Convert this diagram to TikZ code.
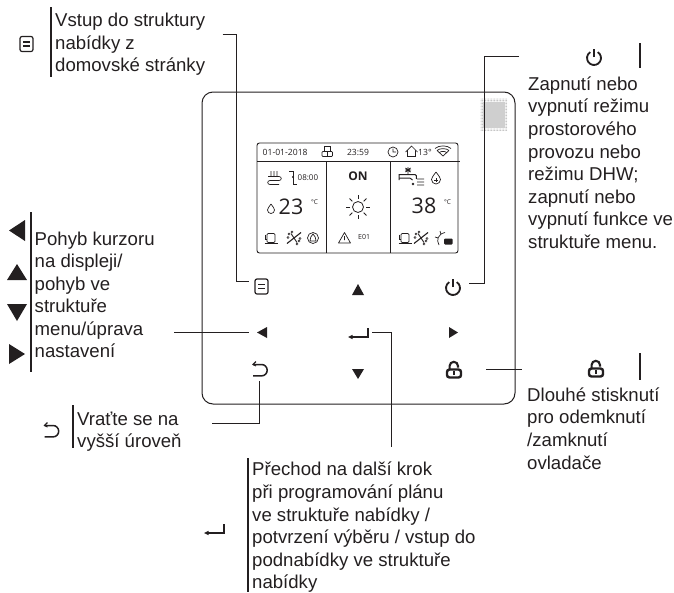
\documentclass[tikz,border=0pt]{standalone}
\usepackage{fontspec}
\setmainfont{Liberation Sans}
\newfontfamily\scrfont{Open Sans}
\definecolor{ink}{HTML}{231F20}
\tikzset{
 x=1pt,y=1pt,
 txt/.style={anchor=north west,inner sep=0pt,align=left,text=ink,font=\fontsize{18.6}{22.55}\selectfont},
 conn/.style={draw=ink,line width=0.9pt},
 bar/.style={draw=ink,line width=1.5pt},
 tri/.style={fill=ink,draw=none},
 scr/.style={inner sep=0pt,text=ink,font=\scrfont\fontsize{8.6}{10}\selectfont},
 big/.style={inner sep=0pt,text=ink,font=\scrfont\fontsize{21.5}{23}\selectfont},
 thin icon/.style={draw=ink,line width=0.7pt},
 menuicon/.pic={\draw[ink,line width=1.2pt,rounded corners=2pt] (-6.5,-7.5) rectangle (6.5,7.5);
   \draw[ink,line width=1.1pt] (-3.5,2)--(3.5,2) (-3.5,-2)--(3.5,-2);},
 powericon/.pic={\draw[ink,line width=1.8pt] (58:7) arc (58:-238:7); \draw[ink,line width=1.6pt] (0,1)--(0,9);},
 lockicon/.pic={\draw[ink,line width=2.1pt] (-4.4,1) -- (-4.4,5) arc (180:0:4.2) -- (4,3.5);
   \draw[ink,line width=2.4pt,rounded corners=2.5pt] (-7,-6.5) rectangle (7,1.5);
   \draw[ink,line width=2.1pt] (0,-4)--(0,0);},
 backicon/.pic={\draw[ink,line width=1.5pt] (-7.5,5.5) -- (1,5.5) arc (90:-90:5.7) -- (-7.5,-5.9);
   \draw[ink,line width=1.1pt] (-4.5,8.5)--(-7.5,5.5)--(-4.5,4);},
 entericon/.pic={\draw[ink,line width=1.2pt] (20,9)--(20,0)--(2,0); \fill[ink] (0,0)--(4.5,2.2)--(4.5,-2.2)--cycle;},
 compicon/.pic={\draw[thin icon,rounded corners=1.2pt] (-4,-4.5)--(-4,4.5)--(4,4.5)--(4,-4.5)--cycle;
   \draw[thin icon] (-6,3.5)--(-6,-1.5)--(-4,-1.5) (-6.5,-5.8)--(6.5,-5.8) (-3.5,-4.5)--(-3.5,-5.8) (3.5,-4.5)--(3.5,-5.8);},
 fanicon/.pic={\draw[ink,line width=1.1pt] (-7,-5.5)--(7,5.5);
   \draw[ink,line width=0.9pt] (-3,4.5)--(3,-4.5);
   \foreach \p in {(-5,4),(-2,6),(5,-3),(3,-6),(-6,0.5),(6,-0.5)}{\draw[ink,line width=0.5pt] \p circle[radius=1.1];}},
 dotgrid/.pic={\foreach \i in {0,...,17}{\foreach \j in {0,...,21}{\fill[gray!55] (\i*1.5,-\j*1.5) circle[radius=0.5];}}},
}
\begin{document}
\begin{tikzpicture}
\useasboundingbox (0,0) rectangle (674,-592);
% panel
\draw[ink,line width=1pt,rounded corners=11pt] (202,-92) rectangle (515,-404);
\pic at (481,-99) {dotgrid};
\fill[gray!38] (483,-102) rectangle (505,-128);
% screen
\draw[ink,line width=0.9pt,rounded corners=2.5pt] (257,-143) rectangle (458,-253);
\draw[ink,line width=0.9pt] (257,-161.5)--(460,-161.5) (326.5,-161.5)--(326.5,-253) (390.5,-161.5)--(390.5,-253);
\node[scr,anchor=west] (date) at (262.5,-152) {01-01-2018};
\draw[thin icon,rounded corners=0.8pt] (322,-156.5) rectangle (332.5,-151.5);
\draw[thin icon] (324.5,-151.5)--(324.5,-146.5)--(330,-146.5)--(330,-151.5) (327.2,-151.5)--(327.2,-156.5);
\node[scr] (time) at (358,-152) {23:59};
\draw[thin icon] (393,-152) circle[radius=5] (393,-148.5)--(393,-152)--(396,-152);
\draw[thin icon] (405.5,-152)--(411.5,-146)--(417.5,-152) (407.5,-150.5)--(407.5,-156.5)--(415.5,-156.5)--(415.5,-150.5);
\node[scr,anchor=west] (outt) at (418,-152) {13°};
\draw[thin icon] (443,-156)--(437,-150.5) (443,-156)--(449,-150.5) (435,-148.5) .. controls (439,-145) and (447,-145) .. (451,-148.5) (437,-150.5) .. controls (440,-148) and (446,-148) .. (449,-150.5) (439.5,-152.5) .. controls (441,-151) and (445,-151) .. (446.5,-152.5);
% left column
\draw[thin icon] (268,-176.5)--(279,-176.5)..controls (282,-176.5) and (282,-180.5) .. (279,-180.5)--(270,-180.5)..controls (267,-180.5) and (267,-184.5) .. (270,-184.5)--(279,-184.5);
\draw[thin icon] (271,-171)..controls (270,-173) and (272,-174) .. (271,-176) (274,-171)..controls (273,-173) and (275,-174) .. (274,-176) (277,-171)..controls (276,-173) and (278,-174) .. (277,-176);
\draw[ink,line width=0.8pt] (289,-171)--(293,-171)--(293,-184)--(297,-184);
\fill[ink] (293,-177) circle[radius=1.2];
\node[scr,anchor=west,font=\scrfont\fontsize{8}{9}\selectfont] (clock) at (297.5,-178) {08:00};
\draw[thin icon] (271,-204)..controls (269,-207) and (267.5,-208.5) .. (267.5,-210) arc (180:360:3.5)..controls (274.5,-208.5) and (273,-207) .. (271,-204);
\node[big,anchor=west] (t1) at (278.5,-207) {23};
\node[scr,anchor=west,font=\scrfont\fontsize{6.5}{7}\selectfont] (c1) at (311,-202) {°C};
\pic at (271,-238) {compicon};
\pic at (294,-238) {fanicon};
\draw[thin icon] (313,-238) circle[radius=5.5];
\draw[thin icon] (310,-241)..controls (309,-238) and (312,-236) .. (313,-234) ..controls (314,-236) and (317,-238) .. (316,-241) -- cycle;
% middle column
\node[scr,font=\scrfont\bfseries\fontsize{12}{14}\selectfont] (on) at (358,-176.5) {ON};
\draw[ink,line width=0.8pt] (358,-207) circle[radius=5.5];
\foreach \a in {0,45,...,315}{\draw[ink,line width=0.8pt] (358,-207)++(\a:8)--++(\a:4);}
\draw[thin icon,line join=round] (338.5,-243)--(344.5,-232.5)--(350.5,-243)--cycle (344.5,-236)--(344.5,-240);
\node[scr,anchor=west,font=\scrfont\fontsize{7}{8}\selectfont] (err) at (358,-237) {E01};
% right column
\draw[ink,line width=1pt] (399,-180)--(399,-174.5)--(415,-174.5)..controls (416.5,-174.5) and (416.5,-176) .. (416.5,-179);
\draw[ink,line width=1pt] (399,-178)--(406,-178)..controls (409,-178) and (412,-178) .. (412.5,-180);
\draw[ink,line width=0.9pt] (405,-170)--(411,-170) (408,-167)--(408,-174) (405.5,-168)--(410.5,-172) (410.5,-168)--(405.5,-172);
\fill[ink] (413,-184) circle[radius=1.4];
\draw[thin icon] (417,-179)..controls (419,-178) and (421,-180) .. (424,-179) (417,-182)..controls (419,-181) and (421,-183) .. (424,-182) (417,-185)..controls (419,-184) and (421,-186) .. (424,-185);
\draw[thin icon] (436,-172)..controls (433,-176) and (431.5,-178) .. (431.5,-179.5) arc (180:360:4.5)..controls (440.5,-178) and (439,-176) .. (436,-172);
\draw[thin icon] (434,-180)--(438,-180) (436,-178)--(436,-182);
\node[big,anchor=west] (t2) at (411.5,-206) {38};
\node[scr,anchor=west,font=\scrfont\fontsize{6.5}{7}\selectfont] (c2) at (444,-202) {°C};
\pic at (405,-238) {compicon};
\pic at (421,-238) {fanicon};
\draw[thin icon] (439,-245)..controls (436,-240) and (438,-234) .. (445,-232.5) (435,-237)--(438,-238) (440,-231)--(441,-234.5);
\fill[ink,rounded corners=1pt] (444,-244.5) rectangle (452.5,-238.5);
% panel keys
\pic at (261.5,-286.5) {menuicon};
\fill[tri] (352,-295)--(364,-295)--(358,-284)--cycle;
\pic at (453,-288) {powericon};
\fill[tri] (267,-327)--(267,-338)--(257,-332.5)--cycle;
\pic at (348,-337) {entericon};
\fill[tri] (449,-327)--(449,-338)--(458,-332.5)--cycle;
\pic at (260.5,-370) {backicon};
\fill[tri] (352,-369)--(364,-369)--(358,-379)--cycle;
\pic at (454,-371) {lockicon};
% texts
\node[txt] (tMenu) at (55,-13) {Vstup do struktury\\nabídky z\\domovské stránky};
\draw[bar] (51,-7)--(51,-77);
\pic at (26.5,-44) {menuicon};
\node[txt] (tMove) at (34.5,-231.5) {Pohyb kurzoru\\na displeji/\\pohyb ve\\struktuře\\menu/úprava\\nastavení};
\draw[bar] (31,-212)--(31,-372);
\fill[tri] (25,-220)--(25,-241)--(9,-230.5)--cycle;
\fill[tri] (7,-280)--(27,-280)--(17,-264)--cycle;
\fill[tri] (7,-304)--(27,-304)--(17,-321)--cycle;
\fill[tri] (9,-344)--(9,-364)--(25,-354)--cycle;
\node[txt] (tBack) at (77,-411.5) {Vraťte se na\\vyšší úroveň};
\draw[bar] (73,-405)--(73,-448);
\begin{scope}[shift={(52,-431)},scale=0.85]\pic {backicon};\end{scope}
\node[txt] (tPower) at (528,-76.5) {Zapnutí nebo\\vypnutí režimu\\prostorového\\provozu nebo\\režimu DHW;\\zapnutí nebo\\vypnutí funkce ve\\struktuře menu.};
\draw[bar] (640,-43)--(640,-68);
\pic at (594,-58) {powericon};
\node[txt] (tLock) at (527,-387.5) {Dlouhé stisknutí\\pro odemknutí\\/zamknutí\\ovladače};
\draw[bar] (640,-353)--(640,-380);
\pic at (596,-370) {lockicon};
\node[txt] (tEnter) at (252,-462) {Přechod na další krok\\při programování plánu\\ve struktuře nabídky /\\potvrzení výběru / vstup do\\podnabídky ve struktuře\\nabídky};
\draw[bar] (248,-458)--(248,-592);
\pic at (204,-533) {entericon};
% connectors
\coordinate (a1) at (222.5,-34); \coordinate (a2) at (249,-281);
\draw[conn] (a1) -| (236,-281) -- (a2);
\coordinate (b1) at (519,-56); \coordinate (b2) at (469,-283);
\draw[conn] (b1) -| (484,-283) -- (b2);
\coordinate (c1a) at (174,-332); \coordinate (c2a) at (249,-332);
\draw[conn] (c1a) -- (c2a);
\coordinate (d1) at (212,-423); \coordinate (d2) at (259,-381);
\draw[conn] (d1) -| (d2);
\coordinate (e1) at (372,-332); \coordinate (e2) at (391,-447);
\draw[conn] (e1) -| (e2);
\coordinate (f1) at (486,-369); \coordinate (f2) at (522,-369);
\draw[conn] (f1) -- (f2);
\end{tikzpicture}
\end{document}
